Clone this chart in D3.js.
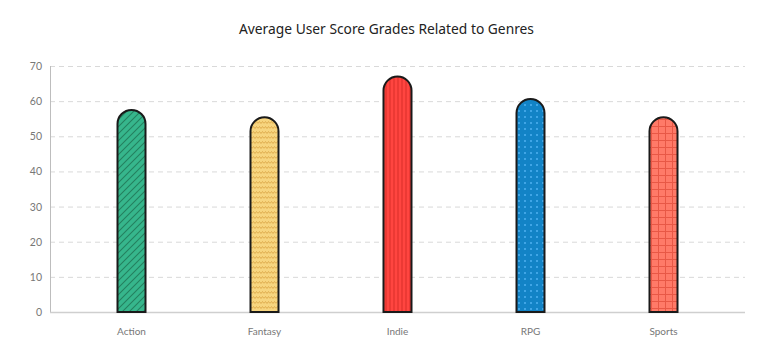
<!DOCTYPE html>
<html><head><meta charset="utf-8">
<script src="https://cdn.jsdelivr.net/npm/d3@7"></script>
<style>body{margin:0;background:#fff}</style>
</head><body>
<svg id="c" width="773" height="356"></svg>
<script>
const categories = ["Action","Fantasy","Indie","RPG","Sports"];
const values = [57.5, 55.4, 67.0, 60.6, 55.4];
const yTicks = [0,10,20,30,40,50,60,70];
const colors = ["#36b68c","#f7d57f","#ff4540","#1283c6","#ff7a68"];
const patternColors = ["#23805f","#e0ad4f","#d92c28","#3fa5e6","#e85846"];
const title = "Average User Score Grades Related to Genres";

(function(){
const svg = d3.select("#c");
const pl = 50, pr = 745, pt = 66, pb = 312;
const x = d3.scaleBand().domain(categories).range([65, 730]).padding(0);
const y = d3.scaleLinear().domain([0,70]).range([pb, pt]);
const bw = 28;

const defs = svg.append("defs");
function pat(id, w, h, bg, draw){
  const p = defs.append("pattern").attr("id", id).attr("patternUnits","userSpaceOnUse").attr("width", w).attr("height", h);
  p.append("rect").attr("width", w).attr("height", h).attr("fill", bg);
  draw(p);
}
pat("p0", 7, 7, colors[0], p => {
  p.append("path").attr("d","M0,7 L7,0 M-1,1 L1,-1 M6,8 L8,6").attr("stroke",patternColors[0]).attr("stroke-width",1.1);
});
pat("p1", 6, 5, colors[1], p => {
  p.append("path").attr("d","M0,3.5 L1.5,1.5 L3,3.5 L4.5,1.5 L6,3.5").attr("fill","none").attr("stroke",patternColors[1]).attr("stroke-width",1);
});
pat("p2", 4, 4, colors[2], p => {
  p.append("path").attr("d","M2,0 L2,4").attr("stroke",patternColors[2]).attr("stroke-width",1);
});
pat("p3", 6, 6, colors[3], p => {
  p.append("rect").attr("x",2).attr("y",2).attr("width",2).attr("height",2).attr("fill",patternColors[3]);
});
pat("p4", 7, 7, colors[4], p => {
  p.append("path").attr("d","M0,0.5 L7,0.5 M0.5,0 L0.5,7").attr("stroke",patternColors[4]).attr("stroke-width",1);
});

svg.append("g").selectAll("line").data(yTicks.filter(d=>d>0)).join("line")
  .attr("x1", pl).attr("x2", pr).attr("y1", d=>y(d)+0.5).attr("y2", d=>y(d)+0.5)
  .attr("stroke","#d9d9d9").attr("stroke-dasharray","5,4");

svg.append("line").attr("x1",pl+0.5).attr("x2",pl+0.5).attr("y1",pt).attr("y2",pb).attr("stroke","#bdbdbd");
svg.append("line").attr("x1",pl).attr("x2",pr).attr("y1",pb+0.5).attr("y2",pb+0.5).attr("stroke","#cfcfcf").attr("stroke-width",1.5);

svg.append("g").selectAll("text").data(yTicks).join("text")
  .attr("x", 42).attr("y", d=>y(d)+4).attr("text-anchor","end")
  .attr("font-family","Lato, sans-serif").attr("font-size",10.5).attr("fill","#777").text(d=>d);

svg.append("g").selectAll("text").data(categories).join("text")
  .attr("x", d=>x(d)+x.bandwidth()/2).attr("y", 335).attr("text-anchor","middle")
  .attr("font-family","Lato, sans-serif").attr("font-size",10).attr("fill","#777").text(d=>d);

const data = categories.map((c,i)=>({c, v:values[i], i}));
svg.append("g").selectAll("path").data(data).join("path")
  .attr("d", d => {
    const cx = x(d.c)+x.bandwidth()/2, r = bw/2;
    const x0 = cx - r, x1 = cx + r, yt = y(d.v) + r;
    return `M${x0},${pb} L${x0},${yt} A${r},${r} 0 0 1 ${x1},${yt} L${x1},${pb} Z`;
  })
  .attr("fill", d=>`url(#p${d.i})`).attr("stroke","#1a1a1a").attr("stroke-width",2);

svg.append("text").attr("x", 386.5).attr("y", 34).attr("text-anchor","middle")
  .attr("font-family","'Noto Sans', sans-serif").attr("font-size",13.8).attr("fill","#222").text(title);
})();
</script>
</body></html>
